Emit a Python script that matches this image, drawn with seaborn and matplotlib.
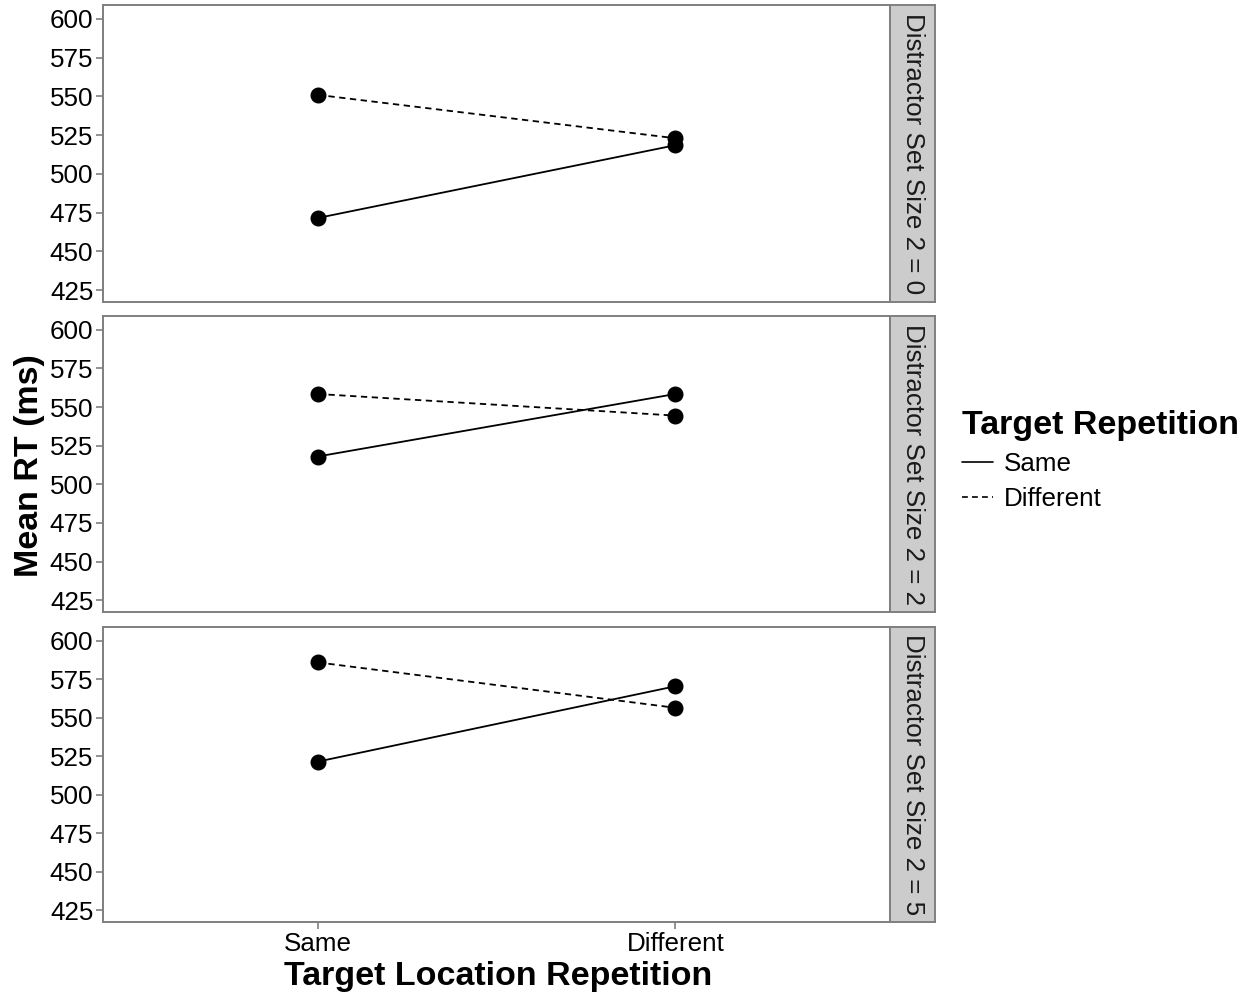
import matplotlib
matplotlib.use("Agg")
import matplotlib.pyplot as plt
from matplotlib.lines import Line2D
import numpy as np
import pandas as pd
import seaborn as sns

# Mean RT (ms) per distractor set size, target location repetition and target repetition
set_sizes = ["0", "2", "5"]
locations = ["Same", "Different"]
repetitions = ["Same", "Different"]

rt_rep_same = {"0": [471.5, 518.5], "2": [518.0, 558.5], "5": [521.5, 570.5]}
rt_rep_diff = {"0": [551.0, 523.0], "2": [558.5, 544.5], "5": [586.0, 556.5]}
se_rep_same = {"0": [3.0, 3.0], "2": [3.0, 3.0], "5": [3.0, 3.0]}
se_rep_diff = {"0": [3.0, 3.0], "2": [3.0, 3.0], "5": [3.0, 3.0]}

y_ticks = [425, 450, 475, 500, 525, 550, 575, 600]

rows = []
for s in set_sizes:
    for i, loc in enumerate(locations):
        rows.append(dict(size=s, loc=loc, rep="Same", rt=rt_rep_same[s][i], se=se_rep_same[s][i]))
        rows.append(dict(size=s, loc=loc, rep="Different", rt=rt_rep_diff[s][i], se=se_rep_diff[s][i]))
df = pd.DataFrame(rows)

sns.set_theme(style="white")
plt.rcParams["font.family"] = ["Liberation Sans", "DejaVu Sans"]
plt.rcParams["text.color"] = "black"

W, H = 1255, 997
fig = plt.figure(figsize=(W / 100, H / 100), dpi=100)

panels = [(5, 302), (316, 612), (627, 922)]
left, right, strip_r = 103, 890, 935
edge = "#7f7f7f"
dash = (0, (3.5, 2.5))
FS = 18.7
FT = 24.5

for k, (s, (top, bot)) in enumerate(zip(set_sizes, panels)):
    ax = fig.add_axes([left / W, 1 - bot / H, (right - left) / W, (bot - top) / H])
    sub = df[df["size"] == s]
    sns.lineplot(data=sub, x="loc", y="rt", style="rep", style_order=repetitions,
                 dashes={"Same": "", "Different": (3.5, 2.5)}, color="black",
                 linewidth=1.3, legend=False, ax=ax, sort=False)
    for rep in repetitions:
        r = sub[sub["rep"] == rep]
        xs = [locations.index(l) for l in r["loc"]]
        ax.errorbar(xs, r["rt"], yerr=r["se"], fmt="o", color="black",
                    markersize=10.5, elinewidth=1.2, capsize=0, zorder=5)
    ax.set_xlim(-0.6, 1.6)
    ax.set_ylim(417.3, 609.0)
    ax.set_yticks(y_ticks)
    ax.set_yticklabels([str(t) for t in y_ticks], fontsize=FS, color="black")
    ax.set_xticks([0, 1])
    ax.set_xlabel("")
    ax.set_ylabel("")
    ax.grid(False)
    for sp in ax.spines.values():
        sp.set_color(edge)
        sp.set_linewidth(1.4)
    ax.tick_params(axis="both", which="both", length=5, width=1.2, color=edge,
                   direction="out", left=True, pad=2)
    if k == 2:
        ax.set_xticklabels(locations, fontsize=FS, color="black")
        ax.tick_params(axis="x", bottom=True)
    else:
        ax.set_xticklabels([])
        ax.tick_params(axis="x", bottom=False)

    # facet strip on the right
    sax = fig.add_axes([right / W, 1 - bot / H, (strip_r - right) / W, (bot - top) / H])
    sax.set_facecolor("#cccccc")
    sax.set_xticks([])
    sax.set_yticks([])
    for sp in sax.spines.values():
        sp.set_color(edge)
        sp.set_linewidth(1.4)
    sax.text(0.5, 0.5, f"Distractor Set Size 2 = {s}", rotation=-90,
             ha="center", va="center", fontsize=FS, color="#1a1a1a",
             transform=sax.transAxes)

fig.text(30 / W, 1 - 466 / H, "Mean RT (ms)", rotation=90, ha="center", va="center",
         fontsize=FT, fontweight="bold", color="black")
fig.text(498 / W, 1 - 976 / H, "Target Location Repetition",
         ha="center", va="center", fontsize=FT, fontweight="bold", color="black")

handles = [Line2D([], [], color="black", lw=1.2, linestyle="-"),
           Line2D([], [], color="black", lw=1.2, linestyle=dash)]
leg = fig.legend(handles, repetitions, title="Target Repetition",
                 loc="upper left", bbox_to_anchor=(962 / W, 1 - 410 / H),
                 frameon=False, fontsize=FS, handlelength=1.2, handletextpad=0.4,
                 labelspacing=0.42, borderaxespad=0, borderpad=0,
                 title_fontproperties={"weight": "bold", "size": FT})
leg._legend_box.align = "left"
for t in leg.get_texts():
    t.set_color("black")
leg.get_title().set_color("black")

fig.savefig("out.png", dpi=100)
